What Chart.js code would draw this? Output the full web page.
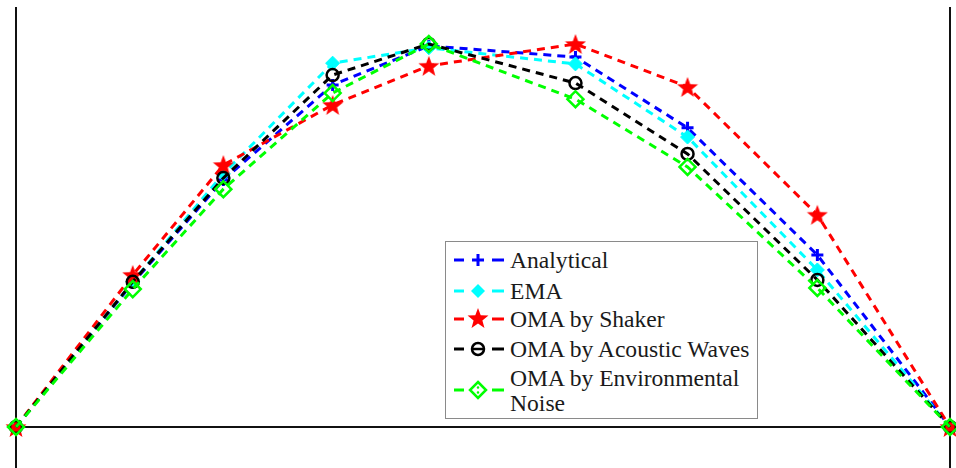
<!DOCTYPE html>
<html>
<head>
<meta charset="utf-8">
<script src="https://cdn.jsdelivr.net/npm/chart.js@4.4.1/dist/chart.umd.min.js"></script>
<style>
  html, body { margin: 0; padding: 0; background: #fff; overflow: hidden; }
  #wrap { position: relative; width: 956px; height: 468px; }
  #mode-chart { display: block; }
  #legend {
    position: absolute; left: 445px; top: 241px; width: 311px; height: 176px;
    border: 1.5px solid #8a8a8a; background: #fff;
    font-family: "Liberation Serif", "Tinos", "DejaVu Serif", "Times New Roman", serif;
    font-size: 23.6px; color: #1a1a1a;
  }
  .row { position: absolute; left: 0; width: 100%; }
  .row canvas { position: absolute; left: 8px; }
  .row span { position: absolute; left: 64px; white-space: nowrap; line-height: 24px; }
</style>
</head>
<body>
<div id="wrap">
  <canvas id="mode-chart" width="956" height="468"></canvas>
  <div id="legend"></div>
</div>
<script>
// sensor positions along the beam (% of length)
const positions = [0, 12.5, 22.2, 33.9, 44.2, 59.9, 71.9, 85.8, 100];

// normalised mode shape amplitudes
const analytical    = [0, 0.376, 0.645, 0.893, 0.995, 0.966, 0.781, 0.449, 0];
const ema           = [0, 0.379, 0.661, 0.950, 0.990, 0.948, 0.757, 0.410, 0];
const shaker        = [0, 0.397, 0.684, 0.841, 0.943, 1.000, 0.888, 0.554, 0];
const acoustic      = [0, 0.379, 0.650, 0.919, 1.000, 0.898, 0.713, 0.384, 0];
const environmental = [0, 0.360, 0.621, 0.872, 1.000, 0.856, 0.679, 0.363, 0];

const seriesLabels = ['Analytical', 'EMA', 'OMA by Shaker', 'OMA by Acoustic Waves', 'OMA by Environmental Noise'];

// filled five-pointed star used as a point style
function makeStar(size, color) {
  const c = document.createElement('canvas');
  c.width = c.height = size;
  const g = c.getContext('2d');
  const r = size / 2, ri = r * 0.42;
  g.beginPath();
  for (let i = 0; i < 10; i++) {
    const a = -Math.PI / 2 + i * Math.PI / 5;
    const rr = i % 2 ? ri : r;
    g.lineTo(r + rr * Math.cos(a), r + rr * Math.sin(a) + 1);
  }
  g.closePath();
  g.fillStyle = color;
  g.fill();
  return c;
}
const starImg = makeStar(22, '#ff0000');

function series(label, values, color, order, extra) {
  return Object.assign({
    label: label,
    data: positions.map((x, i) => ({ x: x, y: values[i] })),
    borderColor: color,
    borderWidth: 3,
    borderDash: [8, 6],
    fill: false,
    tension: 0,
    clip: false,
    order: order,
    pointBorderColor: color,
    pointBackgroundColor: color,
    pointRadius: 6,
    pointBorderWidth: 3
  }, extra);
}

const datasets = [
  series(seriesLabels[0], analytical, '#0000ff', 5, { pointStyle: 'cross', pointRadius: 6 }),
  series(seriesLabels[1], ema, '#00ffff', 4, { pointStyle: 'rectRot', pointRadius: 7, pointBorderWidth: 1 }),
  series(seriesLabels[2], shaker, '#ff0000', 3, { pointStyle: starImg }),
  series(seriesLabels[3], acoustic, '#000000', 2, { pointStyle: 'circle', pointRadius: 6, pointBorderWidth: 2.5, pointBackgroundColor: 'rgba(0,0,0,0)' }),
  series(seriesLabels[4], environmental, '#00ff00', 1, { pointStyle: 'rectRot', pointRadius: 8, pointBorderWidth: 2.5, pointBackgroundColor: 'rgba(0,0,0,0)' })
];

// frame lines: both ends of the beam and the zero line
const frameLines = {
  id: 'frameLines',
  beforeDatasetsDraw(chart) {
    const { ctx, chartArea: a, scales: { y } } = chart;
    const y0 = y.getPixelForValue(0);
    ctx.save();
    ctx.strokeStyle = '#111';
    ctx.lineWidth = 2;
    ctx.beginPath();
    ctx.moveTo(a.left, a.top); ctx.lineTo(a.left, a.bottom);
    ctx.moveTo(a.right, a.top); ctx.lineTo(a.right, a.bottom);
    ctx.moveTo(a.left - 2, y0); ctx.lineTo(chart.width, y0);
    ctx.stroke();
    ctx.restore();
  }
};

new Chart(document.getElementById('mode-chart'), {
  type: 'line',
  data: { datasets: datasets },
  options: {
    responsive: false,
    animation: false,
    layout: { autoPadding: false, padding: { left: 16, right: 6, top: 7, bottom: 0 } },
    scales: {
      x: { type: 'linear', min: 0, max: 100, display: false },
      y: { min: -0.1071, max: 1.0966, display: false }
    },
    plugins: { legend: { display: false }, tooltip: { enabled: false } }
  },
  plugins: [frameLines]
});

// legend: dashed sample + marker, then label
const legendRows = [
  { center: 18, color: '#0000ff', marker: 'plus' },
  { center: 49, color: '#00ffff', marker: 'diamondFill' },
  { center: 77, color: '#ff0000', marker: 'star' },
  { center: 107, color: '#000000', marker: 'circle' },
  { center: 148, color: '#00ff00', marker: 'diamond', lines: ['OMA by Environmental', 'Noise'] }
];

function drawSample(cv, row) {
  const g = cv.getContext('2d');
  const cy = cv.height / 2, cx = 24;
  g.strokeStyle = row.color;
  g.fillStyle = row.color;
  g.lineWidth = 3;
  g.beginPath();
  g.moveTo(0, cy); g.lineTo(10, cy);
  g.moveTo(38, cy); g.lineTo(50, cy);
  g.stroke();
  g.beginPath();
  if (row.marker === 'plus') {
    g.moveTo(cx - 6, cy); g.lineTo(cx + 6, cy);
    g.moveTo(cx, cy - 6); g.lineTo(cx, cy + 6);
    g.stroke();
  } else if (row.marker === 'diamondFill') {
    g.moveTo(cx, cy - 7); g.lineTo(cx + 7, cy); g.lineTo(cx, cy + 7); g.lineTo(cx - 7, cy);
    g.closePath(); g.fill();
  } else if (row.marker === 'star') {
    g.drawImage(starImg, cx - 11, cy - 12);
  } else if (row.marker === 'circle') {
    g.lineWidth = 2.5;
    g.arc(cx, cy, 6, 0, Math.PI * 2);
    g.moveTo(cx - 5, cy); g.lineTo(cx + 5, cy);
    g.stroke();
  } else {
    g.lineWidth = 2.5;
    g.moveTo(cx, cy - 8); g.lineTo(cx + 8, cy); g.lineTo(cx, cy + 8); g.lineTo(cx - 8, cy);
    g.closePath(); g.stroke();
    g.beginPath(); g.arc(cx, cy - 2.5, 1.3, 0, Math.PI * 2); g.arc(cx, cy + 2.5, 1.3, 0, Math.PI * 2); g.fill();
  }
}

const legendEl = document.getElementById('legend');
legendRows.forEach((row, i) => {
  const div = document.createElement('div');
  div.className = 'row';
  div.style.top = (row.center - 14) + 'px';
  const cv = document.createElement('canvas');
  cv.width = 52; cv.height = 28;
  drawSample(cv, row);
  div.appendChild(cv);
  const lines = row.lines || [seriesLabels[i]];
  lines.forEach((t, k) => {
    const s = document.createElement('span');
    s.textContent = t;
    s.style.top = (2 + (k - (lines.length - 1) / 2) * 25) + 'px';
    div.appendChild(s);
  });
  legendEl.appendChild(div);
});
</script>
</body>
</html>
